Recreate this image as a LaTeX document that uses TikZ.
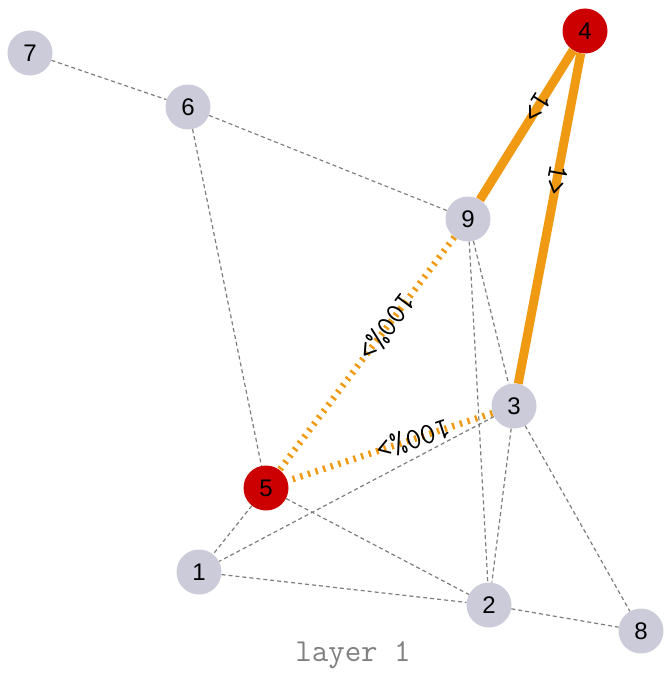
\documentclass[tikz,border=0pt]{standalone}
\usepackage{fontspec}
\setmainfont{Liberation Sans}
\definecolor{nodegray}{RGB}{203,203,218}
\definecolor{nodered}{RGB}{204,0,0}
\definecolor{edgeorange}{RGB}{240,154,20}
\definecolor{edgegray}{RGB}{125,125,125}
\begin{document}
\begin{tikzpicture}[x=1pt,y=-1pt,
  vtx/.style={circle,inner sep=0pt,minimum size=45pt,fill=nodegray,font=\fontsize{24}{24}\selectfont},
  redvtx/.style={vtx,fill=nodered},
  grayedge/.style={draw=edgegray,line width=1.2pt,dash pattern=on 4pt off 3pt},
  solidorange/.style={draw=edgeorange,line width=9pt},
  dotorange/.style={draw=edgeorange,line width=6.5pt,dash pattern=on 2.4pt off 5.6pt},
  elabel/.style={sloped,allow upside down,pos=0.385,inner sep=0pt,font=\ttfamily\fontsize{30}{30}\selectfont},
  capstyle/.style={font=\ttfamily\fontsize{32}{32}\selectfont,text=gray}
]
\useasboundingbox (0,0) rectangle (665,677);
\node[vtx] (n7) at (30,53) {7};
\node[vtx] (n6) at (188,107) {6};
\node[redvtx] (n4) at (585,31) {4};
\node[vtx] (n9) at (468,219) {9};
\node[vtx] (n3) at (514,406) {3};
\node[redvtx] (n5) at (266,488) {5};
\node[vtx] (n1) at (199,572) {1};
\node[vtx] (n2) at (489,605) {2};
\node[vtx] (n8) at (641,631) {8};

\draw[grayedge] (n7) -- (n6);
\draw[grayedge] (n6) -- (n9);
\draw[grayedge] (n6) -- (n5);
\draw[grayedge] (n9) -- (n3);
\draw[grayedge] (n9) -- (n2);
\draw[grayedge] (n3) -- (n2);
\draw[grayedge] (n3) -- (n8);
\draw[grayedge] (n3) -- (n1);
\draw[grayedge] (n5) -- (n1);
\draw[grayedge] (n5) -- (n2);
\draw[grayedge] (n1) -- (n2);
\draw[grayedge] (n2) -- (n8);

\draw[solidorange] (n4) -- node[elabel] {1>} (n9);
\draw[solidorange] (n4) -- node[elabel] {1>} (n3);
\draw[dotorange] (n9) -- node[elabel] {100\%>} (n5);
\draw[dotorange] (n3) -- node[elabel] {100\%>} (n5);

\node[capstyle] (cap) at (353,655) {layer 1};
\end{tikzpicture}
\end{document}
